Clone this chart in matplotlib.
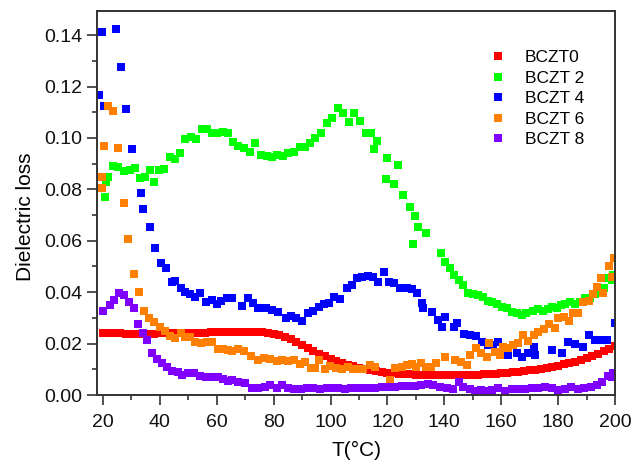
import matplotlib
matplotlib.use("Agg")
import matplotlib.pyplot as plt
import numpy as np

plt.rcParams['font.family'] = ['Liberation Sans', 'DejaVu Sans']

# ---------------- data ----------------
labels = ["BCZT0", "BCZT 2", "BCZT 4", "BCZT 6", "BCZT 8"]
colors = ["#ff0000", "#00ff00", "#0000ff", "#ff8000", "#8000ff"]

t0 = list(range(20, 201, 2))
v0 = [0.0242, 0.0241, 0.0240, 0.0240, 0.0239, 0.0239, 0.0239, 0.0239, 0.0239, 0.0239,
      0.0240, 0.0240, 0.0240, 0.0241, 0.0241, 0.0242, 0.0242, 0.0243, 0.0243, 0.0244,
      0.0244, 0.0244, 0.0245, 0.0245, 0.0245, 0.0245, 0.0245, 0.0245, 0.0244, 0.0242,
      0.0239, 0.0234, 0.0227, 0.0218, 0.0208, 0.0196, 0.0184, 0.0172, 0.0161, 0.0150,
      0.0141, 0.0132, 0.0124, 0.0117, 0.0111, 0.0105, 0.0100, 0.0096, 0.0092, 0.0089,
      0.0087, 0.0085, 0.0083, 0.0082, 0.0080, 0.0079, 0.0078, 0.0078, 0.0077, 0.0077,
      0.0077, 0.0077, 0.0077, 0.0077, 0.0078, 0.0078, 0.0079, 0.0080, 0.0081, 0.0082,
      0.0084, 0.0086, 0.0088, 0.0090, 0.0093, 0.0096, 0.0099, 0.0102, 0.0106, 0.0110,
      0.0114, 0.0119, 0.0124, 0.0130, 0.0136, 0.0144, 0.0152, 0.0161, 0.0170, 0.0180,
      0.0192]

t2 = [20.7, 21.1, 21.8, 23.5, 25.3, 27.4, 29.5, 31.3, 33.0, 34.8, 36.5, 37.9, 39.7, 41.4,
      43.6, 45.3, 47.1, 48.8, 50.9, 52.7, 54.8, 56.6, 58.3, 60.1, 62.2, 64.0, 65.7, 67.5,
      69.6, 71.7, 73.4, 75.6, 77.7, 79.4, 81.2, 83.3, 85.0, 87.2, 89.3, 91.0, 92.8, 94.5,
      96.7, 98.8, 100.5, 102.6, 104.4, 106.5, 108.3, 110.4, 112.5, 114.2, 115.3, 116.3,
      119.5, 119.9, 122.3, 123.7, 125.5, 127.9, 129.0, 129.7, 130.8, 133.6, 138.8, 140.3,
      142.0, 143.4, 145.2, 146.6, 148.3, 150.1, 151.9, 153.6, 155.4, 156.8, 158.5, 160.3,
      162.1, 163.8, 165.6, 167.3, 168.7, 171.2, 173.0, 174.7, 176.5, 177.9, 179.6, 181.0,
      182.4, 184.2, 186.0, 187.7, 189.5, 191.2, 193.0, 194.4, 196.2, 197.2, 199.0, 199.3]
v2 = [0.077, 0.083, 0.085, 0.089, 0.0887, 0.0871, 0.0875, 0.0883, 0.0844, 0.0848, 0.0875,
      0.0828, 0.0875, 0.0879, 0.0926, 0.0918, 0.094, 0.0996, 0.1004, 0.0996, 0.1035, 0.1035,
      0.102, 0.102, 0.1023, 0.102, 0.0984, 0.097, 0.096, 0.0945, 0.098, 0.0933, 0.093,
      0.0925, 0.0933, 0.093, 0.094, 0.0945, 0.0965, 0.0965, 0.098, 0.100, 0.102, 0.1058,
      0.1077, 0.1116, 0.1097, 0.1062, 0.1097, 0.1066, 0.102, 0.102, 0.0957, 0.0988, 0.084,
      0.0922, 0.082, 0.0895, 0.0778, 0.073, 0.0587, 0.0696, 0.0653, 0.063, 0.0552, 0.0517,
      0.0494, 0.0467, 0.0447, 0.0428, 0.0397, 0.0393, 0.0389, 0.0381, 0.0365, 0.036,
      0.0354, 0.0342, 0.0338, 0.0323, 0.0319, 0.0311, 0.0319, 0.0327, 0.0334, 0.0327,
      0.0334, 0.0342, 0.0338, 0.035, 0.0354, 0.0362, 0.0354, 0.0362, 0.0377, 0.0377,
      0.0393, 0.040, 0.0416, 0.0455, 0.0447, 0.0467]

t4 = [18.6, 19.6, 20.4, 24.5, 26.3, 28.1, 30.2, 33.4, 34.1, 36.5, 38.3, 40.4, 42.2, 44.3,
      45.3, 47.4, 48.8, 50.6, 52.3, 54.1, 56.2, 58.3, 60.1, 61.5, 63.6, 65.4, 68.9, 71.0,
      72.7, 74.5, 77.3, 79.4, 81.5, 84.3, 86.1, 87.9, 90.0, 92.1, 93.8, 96.0, 97.7, 99.5,
      101.2, 103.3, 105.8, 107.6, 109.3, 111.1, 113.2, 114.9, 116.7, 118.8, 120.6, 122.3,
      124.4, 126.9, 128.6, 130.4, 132.2, 132.5, 135.7, 137.8, 139.2, 140.3, 143.4, 144.5,
      146.9, 149.0, 151.2, 153.3, 155.4, 157.1, 158.9, 160.6, 162.4, 165.6, 167.3, 169.4,
      171.5, 171.9, 177.9, 181.4, 183.5, 186.0, 188.8, 190.9, 193.0, 195.1, 197.2, 200.0]
v4 = [0.1167, 0.1412, 0.1124, 0.1424, 0.1276, 0.1112, 0.0957, 0.0786, 0.0723, 0.0653,
      0.0572, 0.0513, 0.0494, 0.044, 0.0443, 0.0416, 0.040, 0.0393, 0.0381, 0.0397, 0.0362,
      0.037, 0.0354, 0.0366, 0.0377, 0.0377, 0.0346, 0.0377, 0.0358, 0.0338, 0.0338, 0.0331,
      0.0323, 0.030, 0.0307, 0.030, 0.0288, 0.0319, 0.0327, 0.0342, 0.0354, 0.0358, 0.0381,
      0.0373, 0.0416, 0.0428, 0.0455, 0.0459, 0.0463, 0.0459, 0.044, 0.0478, 0.044, 0.0436,
      0.0416, 0.0416, 0.0412, 0.0397, 0.0358, 0.0338, 0.0323, 0.0292, 0.0264, 0.0303,
      0.0264, 0.028, 0.0237, 0.0233, 0.0229, 0.0206, 0.0195, 0.0194, 0.0206, 0.0167,
      0.0156, 0.0163, 0.0148, 0.0163, 0.0187, 0.0156, 0.0175, 0.0163, 0.0206, 0.0198,
      0.0187, 0.0233, 0.0214, 0.0214, 0.0214, 0.028]

t6 = [19.6, 19.6, 20.4, 21.8, 23.5, 25.3, 27.4, 28.8, 30.9, 32.7, 34.4, 36.2, 37.9, 40.0,
      41.8, 43.6, 45.3, 47.4, 48.8, 50.6, 52.3, 54.5, 56.6, 58.3, 60.4, 62.2, 64.0, 65.4,
      67.5, 69.6, 72.0, 74.5, 76.6, 78.7, 81.2, 82.9, 85.0, 87.2, 89.3, 91.0, 93.1, 94.5,
      96.0, 98.1, 99.8, 101.9, 104.0, 106.1, 107.9, 109.7, 111.4, 113.9, 115.6, 120.9,
      122.7, 125.1, 126.9, 128.6, 130.1, 131.8, 133.6, 135.3, 137.1, 140.3, 143.8, 145.9,
      148.0, 149.0, 151.2, 152.9, 155.0, 155.7, 157.8, 159.6, 160.6, 162.4, 164.2, 165.9,
      167.7, 169.4, 171.5, 173.0, 175.1, 176.8, 178.9, 180.0, 182.1, 183.9, 185.3, 187.0,
      188.8, 190.9, 192.3, 193.7, 195.1, 195.8, 197.9, 199.0, 199.7]
v6 = [0.0848, 0.0807, 0.0969, 0.1126, 0.1105, 0.0961, 0.0747, 0.0605, 0.047, 0.040,
      0.0327, 0.030, 0.0284, 0.0264, 0.0249, 0.0229, 0.0222, 0.0241, 0.0226, 0.0226,
      0.0206, 0.0202, 0.0206, 0.0206, 0.0179, 0.0179, 0.0175, 0.0171, 0.0179, 0.0171,
      0.0152, 0.0136, 0.0144, 0.014, 0.0132, 0.0136, 0.0132, 0.0136, 0.0121, 0.0128,
      0.0105, 0.0105, 0.0136, 0.0101, 0.0113, 0.0105, 0.0101, 0.0109, 0.0101, 0.0101,
      0.0101, 0.0117, 0.0109, 0.0058, 0.0105, 0.0109, 0.0117, 0.0121, 0.0109, 0.0124,
      0.0109, 0.0109, 0.0124, 0.0148, 0.0136, 0.0128, 0.0117, 0.0156, 0.0183, 0.0163,
      0.0148, 0.0202, 0.0167, 0.0156, 0.0187, 0.0183, 0.0194, 0.0202, 0.0233, 0.021,
      0.0233, 0.0245, 0.0257, 0.0276, 0.0261, 0.030, 0.0303, 0.0288, 0.0319, 0.0319,
      0.0362, 0.0366, 0.0393, 0.042, 0.0455, 0.0397, 0.0502, 0.0459, 0.0533]

t8 = [20.0, 22.5, 23.9, 25.6, 27.4, 29.1, 30.9, 32.3, 34.1, 35.5, 37.2, 39.0, 40.7, 42.5,
      44.3, 46.4, 47.8, 49.9, 52.0, 54.1, 56.2, 58.3, 60.4, 62.2, 64.0, 65.4, 67.5, 69.9,
      72.4, 74.5, 77.0, 78.7, 81.2, 82.9, 85.0, 87.2, 89.6, 91.7, 93.8, 96.3, 98.8, 100.5,
      102.6, 105.1, 107.2, 109.7, 111.1, 113.2, 115.6, 118.1, 120.2, 122.7, 125.1, 127.2,
      129.7, 131.8, 134.3, 136.0, 138.5, 141.0, 143.1, 145.2, 146.6, 149.0, 150.8, 152.9,
      155.0, 156.8, 158.9, 161.4, 163.8, 165.9, 168.4, 170.8, 173.0, 175.4, 177.9, 180.0,
      182.4, 184.6, 187.0, 189.1, 191.6, 193.7, 195.5, 197.6, 199.0, 199.3]
v8 = [0.0325, 0.035, 0.037, 0.0397, 0.0389, 0.0362, 0.0338, 0.0276, 0.0241, 0.0214,
      0.0163, 0.014, 0.0124, 0.0109, 0.0093, 0.0089, 0.0078, 0.0086, 0.0086, 0.0074,
      0.007, 0.007, 0.007, 0.0062, 0.0054, 0.0058, 0.0051, 0.0047, 0.0027, 0.0027,
      0.0031, 0.0039, 0.0027, 0.0039, 0.0027, 0.0023, 0.0023, 0.0027, 0.0027, 0.0023,
      0.0027, 0.0027, 0.0027, 0.0023, 0.0027, 0.0027, 0.0027, 0.0027, 0.0027, 0.0031,
      0.0031, 0.0031, 0.0035, 0.0035, 0.0035, 0.0039, 0.0043, 0.0039, 0.0031, 0.0027,
      0.0023, 0.0051, 0.0031, 0.0023, 0.0016, 0.0019, 0.0016, 0.0019, 0.0027, 0.0016,
      0.0023, 0.0023, 0.0023, 0.0027, 0.0027, 0.0031, 0.0027, 0.0019, 0.0023, 0.0031,
      0.0023, 0.0027, 0.0031, 0.0039, 0.0051, 0.0074, 0.007, 0.0086]

x_ticks = [20, 40, 60, 80, 100, 120, 140, 160, 180, 200]
y_ticks = [0.00, 0.02, 0.04, 0.06, 0.08, 0.10, 0.12, 0.14]
x_label = "T(°C)"
y_label = "Dielectric loss"

# ---------------- figure ----------------
W, H = 643, 465
fig = plt.figure(figsize=(W / 100, H / 100), dpi=100)
ax = fig.add_axes([97 / W, 1 - 395 / H, (615 - 97) / W, (395 - 11) / H])

series = [(t0, v0), (t2, v2), (t4, v4), (t6, v6), (t8, v8)]
for (t, v), c, lab in zip(series, colors, labels):
    ax.plot(t, v, linestyle='none', marker='s', markersize=5.6, color=c,
            markeredgewidth=0, label=lab)

ax.set_xlim(17.9, 200)
ax.set_ylim(0, 0.1494)
ax.set_xticks(x_ticks)
ax.set_xticks(np.arange(30, 200, 20), minor=True)
ax.set_yticks(y_ticks)
ax.set_yticks(np.arange(0.01, 0.15, 0.02), minor=True)
ax.set_yticklabels([f"{v:.2f}" for v in y_ticks])
ax.tick_params(which='major', direction='out', length=7.5, width=1.1, labelsize=14,
               colors='#222222')
ax.tick_params(axis='x', which='major', pad=6)
ax.tick_params(axis='y', which='major', pad=3)
ax.tick_params(which='minor', direction='out', length=3.8, width=1.1, colors='#222222')
ax.tick_params(axis='x', which='both', top=False)
ax.tick_params(axis='y', which='both', right=False)
for lab in ax.get_xticklabels() + ax.get_yticklabels():
    lab.set_color('#111111')
for s in ax.spines.values():
    s.set_linewidth(1.4)
    s.set_color('#333333')

ax.set_xlabel(x_label, fontsize=15)
ax.set_ylabel(y_label, fontsize=15)
ax.xaxis.set_label_coords((357 - 97) / 518, -(460 - 395) / 384)
ax.yaxis.set_label_coords((16 - 97) / 518, (395 - 217) / 384)
ax.xaxis.label.set_va('bottom')
ax.yaxis.label.set_va('top')

leg = ax.legend(loc='upper left', bbox_to_anchor=(489 / W, 1 - 50 / H),
                bbox_transform=fig.transFigure, frameon=False, fontsize=12.5,
                handlelength=1.0, handletextpad=1.05, labelspacing=0.31,
                borderpad=0, borderaxespad=0, markerscale=1.05)

fig.savefig("out.png", dpi=100)
